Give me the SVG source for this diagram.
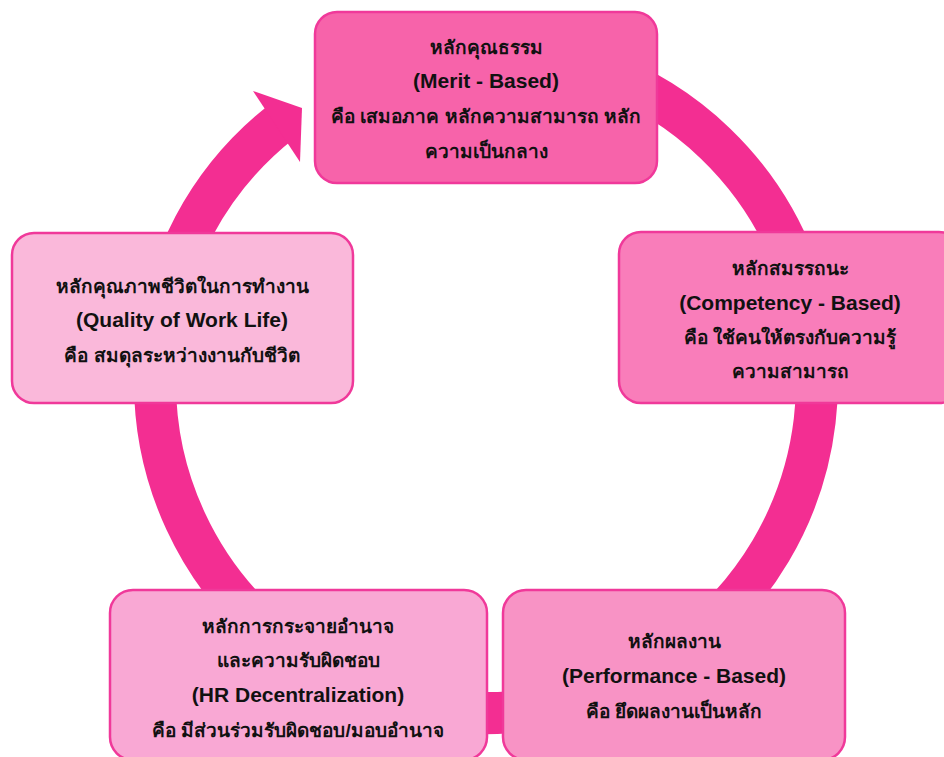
<svg xmlns="http://www.w3.org/2000/svg" width="944" height="757" viewBox="0 0 944 757">
<style>
.box{stroke:#F0399A;stroke-width:2.5}
.t{font-family:"Liberation Sans","Noto Sans","DejaVu Sans",sans-serif;font-size:21px;font-weight:bold;fill:#111;text-anchor:middle}
.th{font-size:19px}
.ring{fill:none;stroke:#F32E92;stroke-width:42}
</style>
<rect width="944" height="757" fill="#ffffff"/>
<g id="connectors">
<path class="ring" d="M 599.2 71 A 331 331 0 1 1 282.2 121.2"/>
<polygon points="253,91 302,108 300,162" fill="#F32E92"/>
</g>
<g id="node-merit">
<rect class="box" x="315" y="12" width="342" height="171" rx="22" fill="#F763AA"/>
<text class="t th" x="486" y="54">หลักคุณธรรม</text>
<text class="t" x="486" y="88">(Merit - Based)</text>
<text class="t th" x="486" y="123">คือ เสมอภาค หลักความสามารถ หลัก</text>
<text class="t th" x="486" y="158">ความเป็นกลาง</text>
</g>
<g id="node-competency">
<rect class="box" x="619" y="232" width="342" height="171" rx="22" fill="#F97DBA"/>
<text class="t th" x="790" y="275">หลักสมรรถนะ</text>
<text class="t" x="790" y="310">(Competency - Based)</text>
<text class="t th" x="790" y="344">คือ ใช้คนให้ตรงกับความรู้</text>
<text class="t th" x="790" y="378">ความสามารถ</text>
</g>
<g id="node-performance">
<rect class="box" x="503" y="590" width="342" height="170" rx="23" fill="#F893C5"/>
<text class="t th" x="674" y="648">หลักผลงาน</text>
<text class="t" x="674" y="683">(Performance - Based)</text>
<text class="t th" x="674" y="718">คือ ยึดผลงานเป็นหลัก</text>
</g>
<g id="node-decentralization">
<rect class="box" x="110" y="590" width="377" height="170" rx="23" fill="#F9A8D4"/>
<text class="t th" x="298" y="633">หลักการกระจายอำนาจ</text>
<text class="t th" x="298" y="667">และความรับผิดชอบ</text>
<text class="t" x="298" y="702">(HR Decentralization)</text>
<text class="t th" x="298" y="737">คือ มีส่วนร่วมรับผิดชอบ/มอบอำนาจ</text>
</g>
<g id="node-qwl">
<rect class="box" x="12" y="233" width="341" height="170" rx="22" fill="#FAB8DA"/>
<text class="t th" x="182" y="293">หลักคุณภาพชีวิตในการทำงาน</text>
<text class="t" x="182" y="327">(Quality of Work Life)</text>
<text class="t th" x="182" y="362">คือ สมดุลระหว่างงานกับชีวิต</text>
</g>
</svg>
